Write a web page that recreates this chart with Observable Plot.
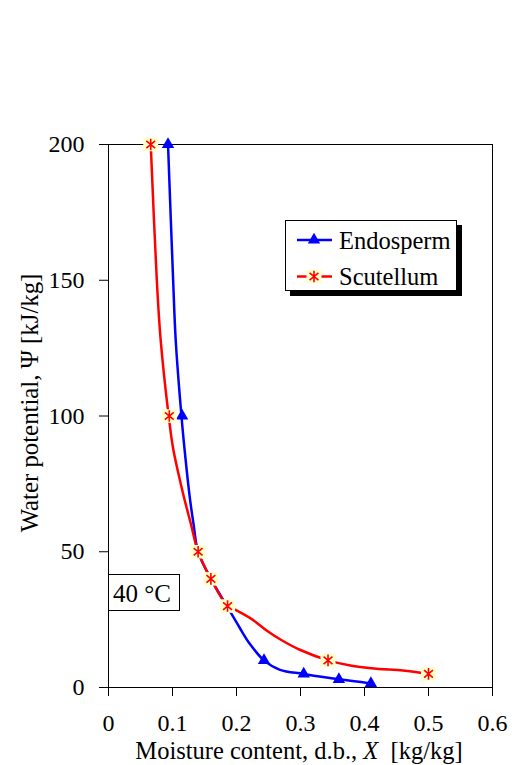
<!DOCTYPE html>
<html>
<head>
<meta charset="utf-8">
<script src="https://cdn.jsdelivr.net/npm/d3@7"></script>
<script src="https://cdn.jsdelivr.net/npm/@observablehq/plot@0.6"></script>
<style>
  html, body { margin: 0; padding: 0; background: white; }
  #chart { width: 512px; height: 765px; }
</style>
</head>
<body>
<div id="chart"></div>
<script>
// ---- Data ----
const xTicks = [0, 0.1, 0.2, 0.3, 0.4, 0.5, 0.6];
const yTicks = [0, 50, 100, 150, 200];

// Endosperm: measured points (markers)
const endoX = [0.093, 0.115, 0.243, 0.305, 0.36, 0.41];
const endoY = [200, 100, 10, 5, 3, 1.5];
// Endosperm: drawn curve
const endoCurveX = [0.093, 0.101, 0.105, 0.114, 0.120, 0.127, 0.133, 0.140, 0.160, 0.185, 0.205, 0.221, 0.243, 0.268, 0.305, 0.36, 0.41];
const endoCurveY = [200, 150, 128, 100, 85, 70, 60, 50, 40, 30, 22, 16, 10, 6.5, 5, 3, 1.5];

// Scutellum: measured points (markers)
const scutX = [0.066, 0.095, 0.140, 0.160, 0.186, 0.343, 0.5];
const scutY = [200, 100, 50, 40, 30, 10, 5];
// Scutellum: drawn curve
const scutCurveX = [0.066, 0.0755, 0.0815, 0.094, 0.101, 0.110, 0.118, 0.129, 0.140, 0.160, 0.186, 0.200, 0.225, 0.247, 0.270, 0.299, 0.343, 0.380, 0.419, 0.460, 0.5];
const scutCurveY = [200, 150, 128, 100, 88, 78, 70, 60, 50, 40, 30, 28.4, 25, 21, 17.5, 13.9, 10, 8, 6.9, 6.3, 5];

const seriesNames = ["Endosperm", "Scutellum"];
const tempLabel = "40 °C";

const toRows = (xs, ys) => xs.map((x, i) => ({x, y: ys[i]}));
const endoPts = toRows(endoX, endoY);
const endoCurve = toRows(endoCurveX, endoCurveY);
const scutPts = toRows(scutX, scutY);
const scutCurve = toRows(scutCurveX, scutCurveY);

// ---- Styles ----
const FONT = "'Liberation Serif', 'Times New Roman', serif";
const BLUE = "#0000FF", RED = "#FF0000", YELLOW = "#FFFFCC";

// custom symbols
const star6 = {
  draw(ctx, size) {
    const r = Math.sqrt(size / Math.PI);
    const a = 50 * Math.PI / 180;
    const sx = r * Math.sin(a), sy = r * Math.cos(a);
    ctx.moveTo(0, -r); ctx.lineTo(0, r);
    ctx.moveTo(-sx, -sy); ctx.lineTo(sx, sy);
    ctx.moveTo(-sx, sy); ctx.lineTo(sx, -sy);
  }
};
const box = {
  draw(ctx, size) {
    const r = Math.sqrt(size / Math.PI);
    ctx.rect(-r, -r * 0.9, 2 * r, 1.8 * r);
  }
};

const chart = Plot.plot({
  width: 512,
  height: 765,
  marginLeft: 108,
  marginRight: 20,
  marginTop: 144,
  marginBottom: 78,
  style: {fontFamily: FONT, fontSize: "24px", color: "black", background: "white", overflow: "visible"},
  x: {domain: [0, 0.6]},
  y: {domain: [0, 200]},
  marks: [
    Plot.frame({stroke: "black", strokeWidth: 1}),
    Plot.axisX({ticks: xTicks, tickSize: 9, tickPadding: 17, tickFormat: d => String(d), label: null, fontSize: 24, stroke: "black"}),
    Plot.axisY({ticks: yTicks, tickSize: 9, tickPadding: 15, tickFormat: d => String(d), label: null, fontSize: 24, stroke: "black"}),
    Plot.line(endoCurve, {x: "x", y: "y", stroke: BLUE, strokeWidth: 2.5, curve: "catmull-rom"}),
    Plot.dot(endoPts, {x: "x", y: "y", symbol: "triangle", r: 4.6, fill: BLUE, stroke: "none"}),
    Plot.line(scutCurve, {x: "x", y: "y", stroke: RED, strokeWidth: 2.5, curve: "catmull-rom"}),
    Plot.dot(scutPts, {x: "x", y: "y", symbol: box, r: 7.5, fill: YELLOW, stroke: "none"}),
    Plot.dot(scutPts, {x: "x", y: "y", symbol: star6, r: 5.8, stroke: RED, strokeWidth: 1.6, fill: "none"})
  ]
});

document.getElementById("chart").appendChild(chart);

// ---- Labels, legend and annotation ----
const svg = d3.select(chart);

// X axis label
const xl = svg.append("text")
  .attr("x", 299).attr("y", 759)
  .attr("text-anchor", "middle")
  .attr("font-family", FONT).attr("font-size", 24.5).attr("fill", "black");
xl.append("tspan").text("Moisture content, d.b., ");
xl.append("tspan").attr("font-style", "italic").text("X");
xl.append("tspan").text("\u00a0\u00a0[kg/kg]");

// Y axis label
svg.append("text")
  .attr("transform", "translate(38,403) rotate(-90)")
  .attr("text-anchor", "middle")
  .attr("font-family", FONT).attr("font-size", 24.8).attr("fill", "black")
  .text("Water potential, \u03A8 [kJ/kg]");

// Legend
const lg = svg.append("g");
lg.append("rect").attr("x", 290).attr("y", 225).attr("width", 172).attr("height", 71).attr("fill", "black");
lg.append("rect").attr("x", 285.5).attr("y", 220.5).attr("width", 171).attr("height", 70)
  .attr("fill", "white").attr("stroke", "black").attr("stroke-width", 1);
const rows = [
  {name: seriesNames[0], y: 240, color: BLUE},
  {name: seriesNames[1], y: 276.5, color: RED}
];
rows.forEach((r, i) => {
  lg.append("line").attr("x1", 297).attr("x2", 332).attr("y1", r.y).attr("y2", r.y)
    .attr("stroke", r.color).attr("stroke-width", 2.5);
  if (i === 0) {
    lg.append("path").attr("transform", `translate(314,${r.y})`)
      .attr("d", d3.symbol(d3.symbolTriangle, Math.PI * 4.6 * 4.6)()).attr("fill", BLUE);
  } else {
    lg.append("path").attr("transform", `translate(314,${r.y})`)
      .attr("d", d3.symbol(box, Math.PI * 7.5 * 7.5)()).attr("fill", YELLOW);
    lg.append("path").attr("transform", `translate(314,${r.y})`)
      .attr("d", d3.symbol(star6, Math.PI * 5.8 * 5.8)()).attr("fill", "none")
      .attr("stroke", RED).attr("stroke-width", 1.6);
  }
  lg.append("text").attr("x", 339).attr("y", r.y + 8.5)
    .attr("text-anchor", "start")
    .attr("font-family", FONT).attr("font-size", 24.5).attr("fill", "black").text(r.name);
});

// Temperature annotation
const ann = svg.append("g");
ann.append("rect").attr("x", 108.5).attr("y", 574.5).attr("width", 71).attr("height", 36)
  .attr("fill", "white").attr("stroke", "black").attr("stroke-width", 1);
ann.append("text").attr("x", 113).attr("y", 601.5)
  .attr("text-anchor", "start")
  .attr("font-family", FONT).attr("font-size", 25).attr("fill", "black").text(tempLabel);
</script>
</body>
</html>
